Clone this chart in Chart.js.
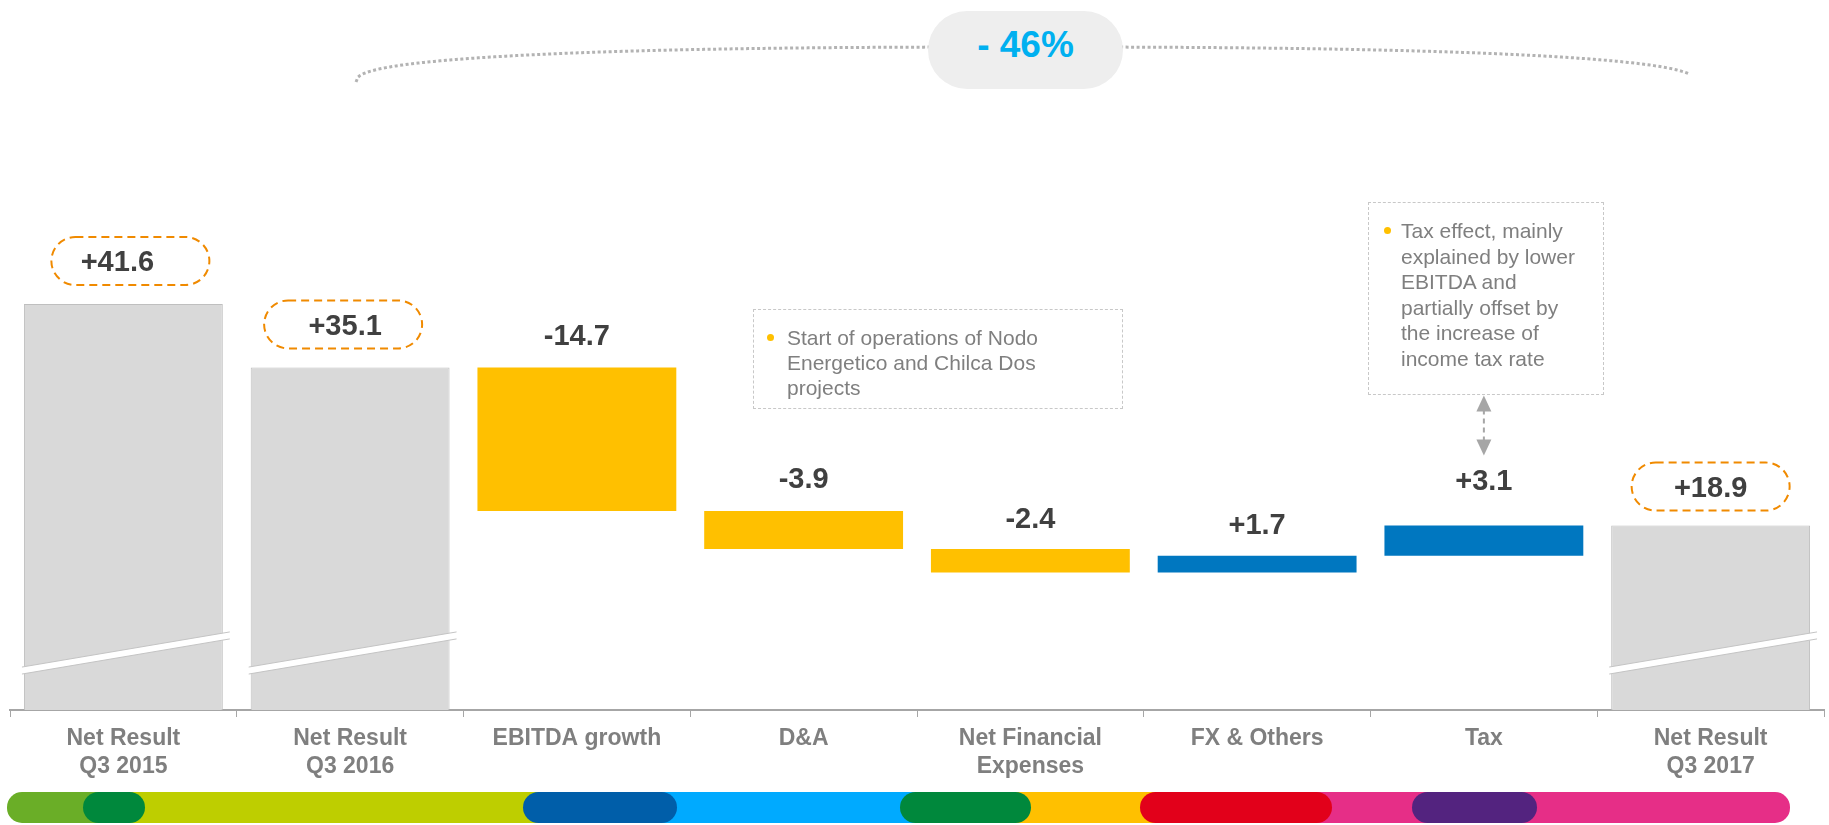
<!DOCTYPE html>
<html>
<head>
<meta charset="utf-8">
<script src="https://cdn.jsdelivr.net/npm/chart.js@4.4.1/dist/chart.umd.min.js"></script>
<style>
  html, body { margin: 0; padding: 0; background: #fff; }
  #wrap { position: relative; width: 1829px; height: 825px; overflow: hidden; font-family: "Liberation Sans", Arial, sans-serif; }
  #myChart { position: absolute; left: 0; top: 0; }
  .note { position: absolute; border: 1px dashed #c8c8c8; box-sizing: border-box; color: #7f7f7f; font-size: 21px; }
  .note .dot { position: absolute; width: 7px; height: 7px; border-radius: 50%; background: #ffc000; }
  #pct { position: absolute; left: 928px; top: 11px; width: 195px; height: 78px; border-radius: 39px; background: #eeeeee;
         color: #00b0f0; font-weight: bold; font-size: 37px; line-height: 67px; text-align: center; }
  .seg { position: absolute; top: 792px; height: 31px; }
</style>
</head>
<body>
<div id="wrap">
  <canvas id="myChart" width="1829" height="825"></canvas>
  <div id="pct">- 46%</div>
  <div class="note" style="left:753px; top:309px; width:370px; height:100px; padding:15px 0 0 33px; line-height:25px;">
    <span class="dot" style="left:13px; top:24px;"></span>
    Start of operations of Nodo<br>Energetico and Chilca Dos<br>projects
  </div>
  <div class="note" style="left:1368px; top:202px; width:236px; height:193px; padding:15px 0 0 32px; line-height:25.6px;">
    <span class="dot" style="left:15px; top:24px;"></span>
    Tax effect, mainly<br>explained by lower<br>EBITDA and<br>partially offset by<br>the increase of<br>income tax rate
  </div>
  <div id="stripe"></div>
</div>
<script>
'use strict';
// chart data
let categories = [['Net Result', 'Q3 2015'], ['Net Result', 'Q3 2016'], 'EBITDA growth', 'D&A',
                  ['Net Financial', 'Expenses'], 'FX & Others', 'Tax', ['Net Result', 'Q3 2017']];
let totals  = [41.6, 35.1, null, null, null, null, null, 18.9];
let changes = [null, null, -14.7, -3.9, -2.4, 1.7, 3.1, null];

// layout bits (not data)
let labelLift = [43, 43, 33, 33, 31, 32, 46, 39];
let labelShift = [-6, -5, 0, 0, 0, 0, 0, 0];
let pillShift = [7, -7, 0, 0, 0, 0, 0, 0];
let breakFrom = 4.4;
let breakTo = 8.0;

// build floating bars for the waterfall
let totalBars = [];
let downBars = [];
let upBars = [];
let running = 0;
for (let i = 0; i < categories.length; i++) {
    if (totals[i] !== null) {
        totalBars.push([0, totals[i]]);
        downBars.push(null);
        upBars.push(null);
        running = totals[i];
    } else {
        let next = running + changes[i];
        totalBars.push(null);
        if (changes[i] < 0) {
            downBars.push([next, running]);
            upBars.push(null);
        } else {
            upBars.push([running, next]);
            downBars.push(null);
        }
        running = next;
    }
}

// bottom colour stripe
let stripeBase = [[7, 114, '#6aae27'], [114, 600, '#bece00'], [600, 965, '#00aaff'], [965, 1236, '#ffc000'], [1236, 1790, '#e62e87']];
let stripePills = [[83, 145, '#00883c'], [523, 677, '#005ea9'], [900, 1031, '#00883c'], [1140, 1332, '#e2001a'], [1412, 1537, '#53237f']];
let stripe = document.getElementById('stripe');
stripeBase.forEach(function (s, i) {
    let d = document.createElement('div');
    d.className = 'seg';
    d.style.left = s[0] + 'px';
    d.style.width = (s[1] - s[0]) + 'px';
    d.style.background = s[2];
    if (i === 0) d.style.borderRadius = '15px 0 0 15px';
    if (i === stripeBase.length - 1) d.style.borderRadius = '0 15px 15px 0';
    stripe.appendChild(d);
});
stripePills.forEach(function (s) {
    let d = document.createElement('div');
    d.className = 'seg';
    d.style.left = s[0] + 'px';
    d.style.width = (s[1] - s[0]) + 'px';
    d.style.background = s[2];
    d.style.borderRadius = '15.5px';
    stripe.appendChild(d);
});

function fmt(v) {
    return (v > 0 ? '+' : '') + v.toFixed(1);
}

let extras = {
    id: 'extras',
    beforeDraw: function (chart) {
        let ctx = chart.ctx;
        // dotted arc over the chart (flattened ellipse)
        let cx = 1026, cy = 82, a = 670, b = 35;
        ctx.save();
        ctx.strokeStyle = '#b3b3b3';
        ctx.lineWidth = 3;
        ctx.setLineDash([3, 2.5]);
        ctx.beginPath();
        for (let dx = -a; dx <= 665; dx += 2) {
            let u = Math.min(1, Math.abs(dx) / a);
            let y = cy - b * Math.pow(1 - Math.pow(u, 2.5), 0.4);
            if (dx === -a) ctx.moveTo(cx + dx, y);
            else ctx.lineTo(cx + dx, y);
        }
        ctx.stroke();
        ctx.restore();
    },
    afterDatasetsDraw: function (chart) {
        let ctx = chart.ctx;
        let yScale = chart.scales.y;
        let metas = [chart.getDatasetMeta(0), chart.getDatasetMeta(1), chart.getDatasetMeta(2)];
        ctx.save();
        // axis breaks on the total bars
        metas[0].data.forEach(function (bar, i) {
            if (totals[i] === null) return;
            let half = bar.width / 2;
            let x0 = bar.x - half - 2;
            let x1 = bar.x + half + 7;
            let y0 = yScale.getPixelForValue(breakFrom);
            let y1 = yScale.getPixelForValue(breakTo);
            let t = 7;
            ctx.fillStyle = '#ffffff';
            ctx.beginPath();
            ctx.moveTo(x0, y0);
            ctx.lineTo(x1, y1);
            ctx.lineTo(x1, y1 + t);
            ctx.lineTo(x0, y0 + t);
            ctx.closePath();
            ctx.fill();
            ctx.strokeStyle = '#c4c4c4';
            ctx.lineWidth = 1;
            ctx.beginPath();
            ctx.moveTo(x0, y0);
            ctx.lineTo(x1, y1);
            ctx.moveTo(x0, y0 + t);
            ctx.lineTo(x1, y1 + t);
            ctx.stroke();
        });
        // value labels
        ctx.font = 'bold 29px "Liberation Sans", Arial, sans-serif';
        ctx.textAlign = 'center';
        ctx.textBaseline = 'alphabetic';
        for (let i = 0; i < categories.length; i++) {
            let bar, top, txt;
            if (totals[i] !== null) {
                bar = metas[0].data[i];
                top = yScale.getPixelForValue(totals[i]);
                txt = fmt(totals[i]);
            } else {
                let ds = changes[i] < 0 ? 1 : 2;
                let range = changes[i] < 0 ? downBars[i] : upBars[i];
                bar = metas[ds].data[i];
                top = yScale.getPixelForValue(range[1]);
                txt = fmt(changes[i]);
            }
            let cy = top - labelLift[i];
            if (totals[i] !== null) {
                ctx.setLineDash([8, 5]);
                ctx.strokeStyle = '#f08a00';
                ctx.lineWidth = 2;
                ctx.beginPath();
                ctx.roundRect(bar.x + pillShift[i] - 79, cy - 24, 158, 48, 24);
                ctx.stroke();
                ctx.setLineDash([]);
            }
            ctx.fillStyle = '#404040';
            ctx.fillText(txt, bar.x + labelShift[i], cy + 10.4);
            if (categories[i] === 'Tax') {
                // double arrow to the note box
                let ax = bar.x;
                let yb = top - 70;
                let yt = yb - 60;
                ctx.strokeStyle = '#a6a6a6';
                ctx.fillStyle = '#a6a6a6';
                ctx.lineWidth = 2;
                ctx.setLineDash([5, 4]);
                ctx.beginPath();
                ctx.moveTo(ax, yt + 14);
                ctx.lineTo(ax, yb - 14);
                ctx.stroke();
                ctx.setLineDash([]);
                ctx.beginPath();
                ctx.moveTo(ax, yt);
                ctx.lineTo(ax - 7.5, yt + 16);
                ctx.lineTo(ax + 7.5, yt + 16);
                ctx.closePath();
                ctx.fill();
                ctx.beginPath();
                ctx.moveTo(ax, yb);
                ctx.lineTo(ax - 7.5, yb - 16);
                ctx.lineTo(ax + 7.5, yb - 16);
                ctx.closePath();
                ctx.fill();
            }
        }
        ctx.restore();
    }
};

let ctx = document.getElementById('myChart').getContext('2d');
let chart = new Chart(ctx, {
    type: 'bar',
    data: {
        labels: categories,
        datasets: [{
            label: 'Net Result',
            data: totalBars,
            backgroundColor: '#d9d9d9',
            borderColor: '#bfbfbf',
            borderWidth: 1
        }, {
            label: 'Decrease',
            data: downBars,
            backgroundColor: '#ffc000'
        }, {
            label: 'Increase',
            data: upBars,
            backgroundColor: '#0077c0'
        }]
    },
    options: {
        responsive: false,
        animation: false,
        layout: { padding: { left: 10, right: 5, top: 0, bottom: 0 } },
        datasets: { bar: { grouped: false, categoryPercentage: 1, barPercentage: 0.877 } },
        plugins: { legend: { display: false }, tooltip: { enabled: false } },
        scales: {
            x: {
                grid: { drawOnChartArea: false, drawTicks: true, tickLength: 7, color: '#a6a6a6', lineWidth: 1, offset: true },
                border: { color: '#a6a6a6', width: 2 },
                ticks: {
                    color: '#7f7f7f',
                    padding: 8,
                    maxRotation: 0,
                    autoSkip: false,
                    font: { family: '"Liberation Sans", Arial, sans-serif', size: 23, weight: 'bold', lineHeight: '28px' }
                },
                afterFit: function (scale) { scale.height = 115; }
            },
            y: { display: false, min: 0, max: 72.75 }
        }
    },
    plugins: [extras]
});
</script>
</body>
</html>
